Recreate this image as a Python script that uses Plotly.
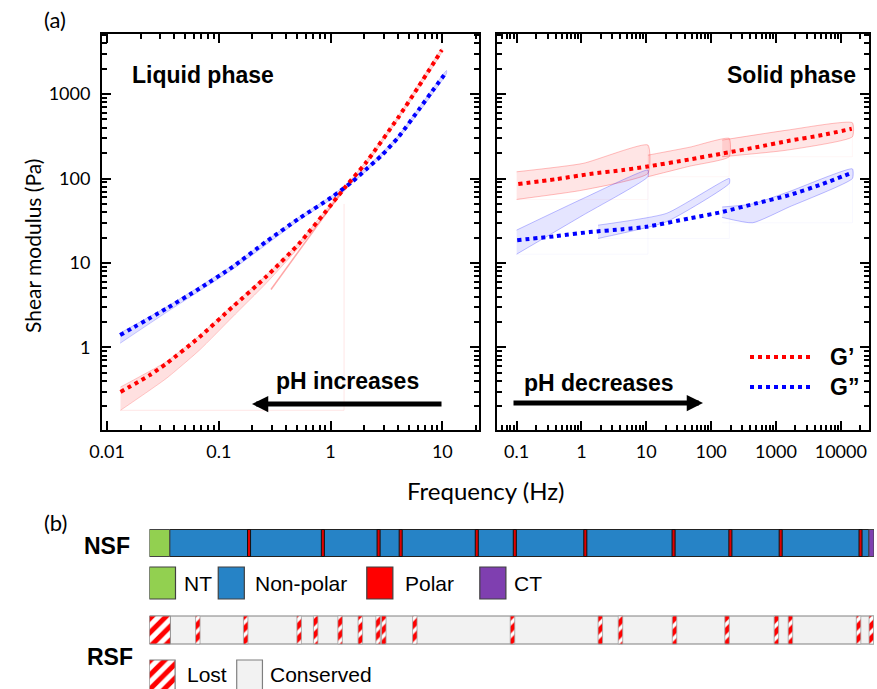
import plotly.graph_objects as go

W, H = 877, 689
def px(x): return x / W
def py(y): return 1 - y / H

# ---------------- (a) Liquid phase data ----------------
liq_freq_gp = [0.0132, 0.0241, 0.034, 0.0673, 0.133, 0.264, 0.524, 1.035, 1.36, 2.05, 4.07, 6.12, 9.9]
liq_gp      = [0.297, 0.469, 0.644, 1.33, 3.02, 6.84, 17.0, 50.7, 79.8, 151, 538, 1222, 3320]
liq_freq_gpp = [0.0131, 0.034, 0.0673, 0.133, 0.264, 0.524, 1.035, 1.56, 2.05, 2.88, 4.07, 6.12, 8.05, 10.9]
liq_gpp      = [1.40, 2.89, 4.99, 9.0, 17.8, 33.7, 60.7, 91.4, 126, 189, 312, 646, 1065, 1836]

liq_band_f_gp = [0.0132, 0.034, 0.0673, 0.133, 0.264, 0.524, 1.035, 2.05, 4.07, 9.9]
liq_band_gp_hi = [0.34, 0.68, 1.38, 3.15, 7.1, 17.6, 52, 157, 555, 3450]
liq_band_gp_lo = [0.18, 0.43, 0.93, 2.3, 5.7, 15.5, 48, 142, 515, 3150]
liq_band_f_gpp = [0.0131, 0.034, 0.133, 0.524, 1.035, 2.05, 4.07, 10.9]
liq_band_gpp_hi = [1.48, 3.0, 9.4, 35, 63, 131, 325, 1900]
liq_band_gpp_lo = [1.12, 2.6, 8.4, 32, 58, 120, 298, 1750]
liq_extra_f = [0.293, 1.36]
liq_extra_g = [4.85, 80]
liq_box_f = [0.0132, 1.32, 1.32]
liq_box_g = [0.18, 0.18, 50]

# ---------------- (a) Solid phase data ----------------
sol_freq = [0.106, 0.412, 1.34, 4.37, 10, 46.3, 151, 492, 1600, 5210, 14750]
sol_gp   = [85.9, 98.4, 113, 126, 138, 168, 198, 234, 280, 327, 388]
sol_freq2 = [0.102, 0.412, 1.34, 4.37, 10, 46.3, 151, 492, 1600, 5210, 14750]
sol_gpp   = [18.6, 20.8, 23.2, 25.1, 26.8, 33.7, 40.3, 50.7, 63.6, 85.9, 117]

# sweeps (frequency, upper, lower)
sweeps_gp = [
    ([0.1, 1.06, 10.6], [120, 151, 249], [56.5, 73, 115]),
    ([10.6, 47, 190], [189, 235, 298], [105, 140, 181]),
    ([148, 1500, 15100], [285, 374, 457], [181, 217, 312]),
]
sweeps_gpp = [
    ([0.1, 1.06, 10.6], [24.5, 58, 126], [12.7, 36.8, 105]),
    ([1.8, 20.4, 191], [28, 38.6, 100], [19.5, 30.7, 87.5]),
    ([148, 437, 1600, 15100], [46, 50, 70, 130], [34.6, 29.9, 46, 100]),
]

# axis ticks
liq_xticks = [0.01, 0.1, 1, 10]
liq_xlabels = ["0.01", "0.1", "1", "10"]
sol_xticks = [0.1, 1, 10, 100, 1000, 10000]
sol_xlabels = ["0.1", "1", "10", "100", "1000", "10000"]
yticks = [0.1, 1, 10, 100, 1000]
ylabels = ["0.1", "1", "10", "100", "1000"]

# ---------------- (b) sequence data (% of sequence) ----------------
nt_end = 2.8
ct_start = 99.3
seq_end = 100
polar_pos = [13.75, 23.94, 31.63, 34.68, 45.18, 50.43, 60.16, 72.34, 80.18, 87.12, 98.14]
lost_block = [0, 2.9]
lost_pos = [6.68, 13.29, 20.67, 22.95, 26.32, 29.11, 31.56, 32.35, 36.63, 50.11,
            62.23, 65.01, 72.47, 79.72, 86.53, 88.47, 97.87, 99.63]

RED = "#ff0000"
BLUE = "#0000ff"
fig = go.Figure()

def band(f, hi, lo, fill, edge, xa, ya):
    fig.add_trace(go.Scatter(x=list(f) + list(f)[::-1], y=list(hi) + list(lo)[::-1],
                             fill="toself", fillcolor=fill, mode="lines",
                             line=dict(color=edge, width=1, shape="spline", smoothing=0.5),
                             xaxis=xa, yaxis=ya, hoverinfo="skip", showlegend=False))

def faint(x, y, color, xa, ya, w=1):
    fig.add_trace(go.Scatter(x=x, y=y, mode="lines", line=dict(color=color, width=w),
                             xaxis=xa, yaxis=ya, hoverinfo="skip", showlegend=False))

# left bands
faint(liq_box_f, liq_box_g, "rgba(255,0,0,0.1)", "x", "y")
band(liq_band_f_gp, liq_band_gp_hi, liq_band_gp_lo, "rgba(255,0,0,0.12)", "rgba(255,0,0,0.2)", "x", "y")
band(liq_band_f_gpp, liq_band_gpp_hi, liq_band_gpp_lo, "rgba(0,0,255,0.12)", "rgba(0,0,255,0.2)", "x", "y")
faint(liq_extra_f, liq_extra_g, "rgba(255,0,0,0.35)", "x", "y", 1.5)

# right bands (with faint bounding lines)
for f, hi, lo in sweeps_gp:
    faint([f[0], f[-1], f[-1]], [min(lo), min(lo), max(hi)], "rgba(255,0,0,0.04)", "x2", "y2")
    band(f, hi, lo, "rgba(255,0,0,0.1)", "rgba(255,0,0,0.25)", "x2", "y2")
for f, hi, lo in sweeps_gpp:
    faint([f[0], f[-1], f[-1]], [min(lo), min(lo), max(hi)], "rgba(0,0,255,0.03)", "x2", "y2")
    band(f, hi, lo, "rgba(0,0,255,0.1)", "rgba(0,0,255,0.25)", "x2", "y2")

# dotted curves
def dotted(x, y, color, xa, ya):
    fig.add_trace(go.Scatter(x=x, y=y, mode="lines",
                             line=dict(color=color, width=4, dash="dot", shape="spline", smoothing=0.6),
                             xaxis=xa, yaxis=ya, hoverinfo="skip", showlegend=False))

dotted(liq_freq_gpp, liq_gpp, BLUE, "x", "y")
dotted(liq_freq_gp, liq_gp, RED, "x", "y")
dotted(sol_freq, sol_gp, RED, "x2", "y2")
dotted(sol_freq2, sol_gpp, BLUE, "x2", "y2")

# ---------------- bottom bars ----------------
NSF_Y, RSF_Y = 543, 630
BAR_H = 27

def hbar(starts, widths, yc, h, color, line_color="#333333", line_w=1, pattern=None):
    marker = dict(color=color, line=dict(color=line_color, width=line_w))
    if pattern:
        marker["pattern"] = pattern
    fig.add_trace(go.Bar(orientation="h", y=[yc] * len(starts), x=widths, base=starts,
                         width=h, marker=marker, xaxis="x3", yaxis="y3",
                         hoverinfo="skip", showlegend=False))

# NSF
hbar([nt_end], [ct_start - nt_end], NSF_Y, BAR_H, "#2683c6", "#222222", 1)
hbar([0], [nt_end], NSF_Y, BAR_H, "#92d050", "#444444", 1)
hbar([ct_start], [seq_end - ct_start], NSF_Y, BAR_H, "#7f3fb0", "#444444", 1)
sep_w = 0.42
hbar([p - sep_w / 2 for p in polar_pos], [sep_w] * len(polar_pos), NSF_Y, BAR_H, "#e00000", "#111111", 1)

# RSF
hatch = dict(shape="/", fgcolor=RED, bgcolor="white", fgopacity=1, size=10, solidity=0.5, fillmode="replace")
hbar([0], [seq_end], RSF_Y, 28, "#f2f2f2", "#808080", 1)
hbar([lost_block[0]], [lost_block[1] - lost_block[0]], RSF_Y, 28, "white", "#909090", 1, hatch)
lw = 0.62
hbar([p - lw / 2 for p in lost_pos], [lw] * len(lost_pos), RSF_Y, 28, "white", "#a0a0a0", 0.8,
     dict(shape="/", fgcolor=RED, bgcolor="white", fgopacity=1, size=9, solidity=0.6, fillmode="replace"))

# legend swatches (bottom)
leg1 = [("NT", "#92d050", 0.0), ("Non-polar", "#2683c6", 9.5), ("Polar", "#ff0000", 30.0), ("CT", "#7f3fb0", 45.6)]
for name, col, x0 in leg1:
    hbar([x0], [3.6], 583, 32, col, "#404040", 1.2)
hbar([0.0], [3.55], 675, 30, "white", "#7f7f7f", 1.2, hatch)
hbar([12.05], [3.55], 675, 30, "#f2f2f2", "#7f7f7f", 1.2)

# ---------------- axes ----------------
def minor_vals(e0, e1):
    return [k * 10 ** e for e in range(e0, e1 + 1) for k in range(2, 10)]

tickfont = dict(family="Lato", size=18, color="black")
common = dict(type="log", showline=True, linewidth=2, linecolor="black", mirror="ticks",
              ticks="inside", ticklen=9, tickwidth=2, tickcolor="black",
              showgrid=False, zeroline=False, tickfont=tickfont, automargin=False)

fig.update_layout(
    width=W, height=H, margin=dict(l=0, r=0, t=0, b=0, pad=0, autoexpand=False),
    paper_bgcolor="white", plot_bgcolor="white", barmode="overlay", showlegend=False,
    xaxis=dict(**common, domain=[px(102), px(479)], range=[-2.045, 1.328], anchor="y",
               tickmode="array", tickvals=liq_xticks, ticktext=liq_xlabels,
               ticklabelstandoff=5,
               minor=dict(tickmode="array", tickvals=minor_vals(-3, 1), ticks="inside",
                          ticklen=5, tickwidth=1.5, tickcolor="black")),
    yaxis=dict(**common, domain=[py(429.5), py(34)], range=[-0.972, 3.711], anchor="x",
               tickmode="array", tickvals=yticks, ticktext=ylabels, ticklabelstandoff=6,
               minor=dict(tickmode="array", tickvals=minor_vals(-2, 3), ticks="inside",
                          ticklen=5, tickwidth=1.5, tickcolor="black")),
    xaxis2=dict(**common, domain=[px(497.3), px(869)], range=[-1.298, 4.435], anchor="y2",
                tickmode="array", tickvals=sol_xticks, ticktext=sol_xlabels, ticklabelstandoff=5,
                minor=dict(tickmode="array", tickvals=minor_vals(-2, 4), ticks="inside",
                           ticklen=5, tickwidth=1.5, tickcolor="black")),
    yaxis2=dict(**common, domain=[py(429.5), py(34)], range=[-0.972, 3.711], anchor="x2",
                tickmode="array", tickvals=yticks, showticklabels=False,
                minor=dict(tickmode="array", tickvals=minor_vals(-2, 3), ticks="inside",
                           ticklen=5, tickwidth=1.5, tickcolor="black")),
    xaxis3=dict(domain=[px(149.4), px(874)], range=[0, 100], anchor="y3", visible=False),
    yaxis3=dict(domain=[0, py(520)], range=[689, 520], anchor="x3", visible=False),
)

# ---------------- annotations ----------------
ann = []
def text(x, y, s, size, family="Liberation Sans", xanchor="center", yanchor="middle", angle=0, bold=False):
    ann.append(dict(x=px(x), y=py(y), xref="paper", yref="paper", text=f"<b>{s}</b>" if bold else s,
                    showarrow=False, xanchor=xanchor, yanchor=yanchor, textangle=angle,
                    font=dict(family=family, size=size, color="black")))

text(55, 20, "(a)", 22, "Lato")
text(55, 522, "(b)", 22, "Lato")
text(33, 246, "Shear modulus (Pa)", 21, "Lato", angle=-90)
text(485, 490, "Frequency (Hz)", 24, "Lato")
text(130, 75, "Liquid phase", 23, xanchor="left", bold=True)
text(858, 75, "Solid phase", 23, xanchor="right", bold=True)
text(347, 381, "pH increases", 23, bold=True)
text(599, 383, "pH decreases", 23, bold=True)
text(828, 357, "G’", 23, xanchor="left", bold=True)
text(828, 387, "G”", 23, xanchor="left", bold=True)
text(107, 546, "NSF", 23, bold=True)
text(110, 657, "RSF", 23, bold=True)
text(182, 583, "NT", 21, xanchor="left")
text(253, 583, "Non-polar", 21, xanchor="left")
text(403, 583, "Polar", 21, xanchor="left")
text(512, 583, "CT", 21, xanchor="left")
text(185, 674, "Lost", 21, xanchor="left")
text(268, 674, "Conserved", 21, xanchor="left")

# arrows
ann.append(dict(x=px(252), y=py(404), xref="paper", yref="paper", ax=191, ay=0, text="",
                showarrow=True, arrowhead=2, arrowsize=0.65, arrowwidth=5, arrowcolor="black"))
ann.append(dict(x=px(703), y=py(403), xref="paper", yref="paper", ax=-191, ay=0, text="",
                showarrow=True, arrowhead=2, arrowsize=0.65, arrowwidth=5, arrowcolor="black"))
fig.update_layout(annotations=ann)

# legend sample lines
for yy, col in [(357, RED), (387, BLUE)]:
    fig.add_shape(type="line", xref="paper", yref="paper", x0=px(750), x1=px(813), y0=py(yy), y1=py(yy),
                  line=dict(color=col, width=4, dash="dot"))

fig.write_html("out.html", config={"displayModeBar": False},
               post_script="document.body.style.margin='0px';document.body.style.overflow='hidden';")
